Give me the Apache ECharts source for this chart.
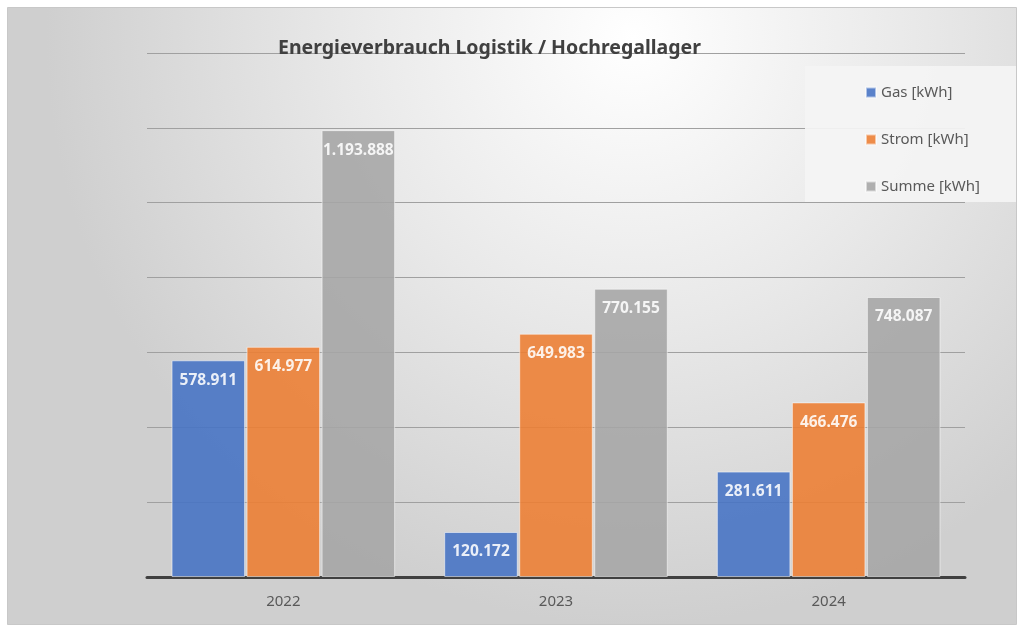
<!DOCTYPE html>
<html><head><meta charset="utf-8">
<script src="https://cdn.jsdelivr.net/npm/echarts@6/dist/echarts.min.js"></script>
<style>html,body{margin:0;padding:0;background:#fff}#c{width:1020px;height:630px}</style>
</head><body><div id="c"></div>
<script>
var categories = ['2022', '2023', '2024'];
var gas = [578911, 120172, 281611];
var strom = [614977, 649983, 466476];
var summe = [1193888, 770155, 748087];
var seriesNames = ['Gas [kWh]', 'Strom [kWh]', 'Summe [kWh]'];
var colors = ['#4472C4', '#ED7D31', '#A5A5A5'];

function fmt(v) {
  return String(Math.round(v)).replace(/\B(?=(\d{3})+(?!\d))/g, '.');
}
var chart = echarts.init(document.getElementById('c'));
function mk(name, data, color) {
  return {
    name: name, type: 'bar', data: data,
    barGap: '2%', barCategoryGap: '18%',
    itemStyle: { color: color, opacity: 0.88, borderColor: 'rgba(255,255,255,0.6)', borderWidth: 1 },
    label: {
      show: true, position: 'insideTop', distance: 12,
      color: '#fff', fontWeight: 'bold', fontSize: 15.5, fontFamily: 'Noto Sans',
      formatter: function (p) { return fmt(p.value); }
    }
  };
}
chart.setOption({
  backgroundColor: '#fff',
  animation: false,
  graphic: [
    { type: 'rect', z: -10, silent: true,
      shape: { x: 7.5, y: 7.5, width: 1009, height: 617 },
      style: {
        fill: { type: 'radial', x: 0.62, y: 0.05, r: 0.95,
          colorStops: [{ offset: 0, color: '#ffffff' }, { offset: 0.5, color: '#e8e8e8' }, { offset: 1, color: '#cfcfcf' }] },
        stroke: '#c8c8c8', lineWidth: 1 } },
    { type: 'rect', z: 5, silent: true,
      shape: { x: 805, y: 66, width: 211, height: 136 },
      style: { fill: 'rgba(244,244,244,0.92)' } }
  ],
  title: {
    text: 'Energieverbrauch Logistik / Hochregallager',
    left: 273, top: 33,
    textStyle: { fontFamily: 'Noto Sans', fontWeight: 'bold', fontSize: 19.5, color: '#404040' }
  },
  legend: {
    orient: 'vertical', left: 860, top: 80, itemGap: 32,
    itemWidth: 10, itemHeight: 10, icon: 'rect', z: 10,
    textStyle: { color: '#595959', fontSize: 15, fontFamily: 'Noto Sans' },
    data: seriesNames
  },
  grid: { left: 147, right: 55, top: 53, bottom: 53 },
  xAxis: {
    type: 'category', data: categories,
    axisLine: { lineStyle: { color: '#404040', width: 3 } },
    axisTick: { show: false },
    axisLabel: { color: '#595959', fontSize: 15, margin: 17, fontFamily: 'Noto Sans' }
  },
  yAxis: {
    type: 'value', min: 0, max: 1400000, interval: 200000,
    axisLabel: { show: false }, axisLine: { show: false }, axisTick: { show: false },
    splitLine: { lineStyle: { color: '#a0a0a0', width: 1 } }
  },
  series: [
    mk(seriesNames[0], gas, colors[0]),
    mk(seriesNames[1], strom, colors[1]),
    mk(seriesNames[2], summe, colors[2])
  ]
});
</script></body></html>
